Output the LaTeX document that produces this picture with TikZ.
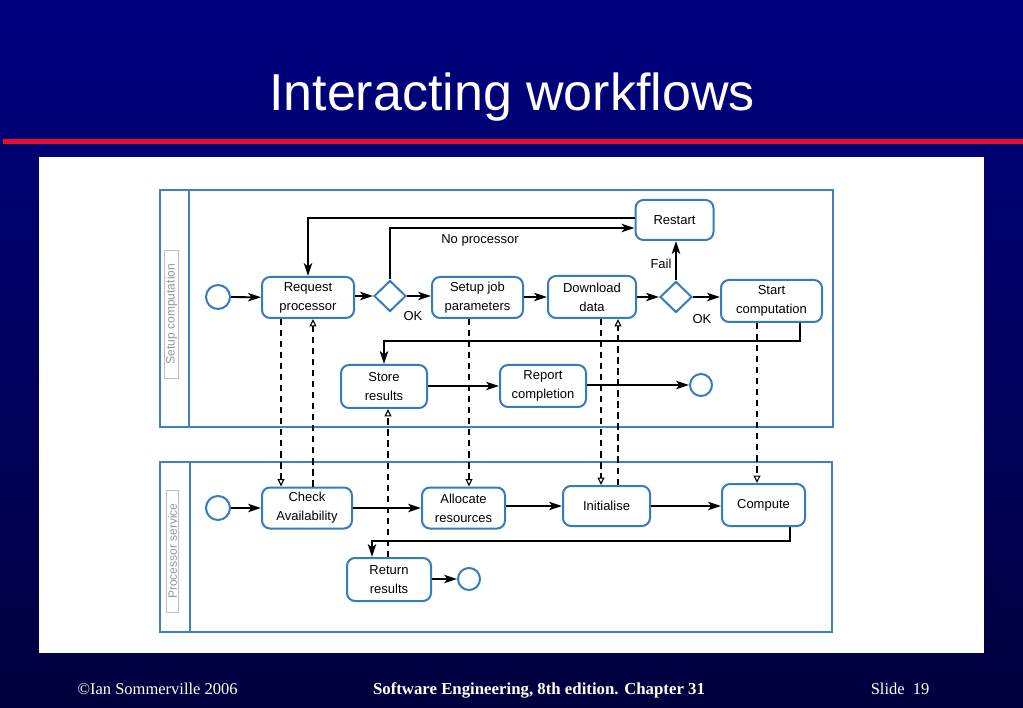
\documentclass[tikz,border=0pt]{standalone}
\usepackage{fontspec}
\setmainfont{Liberation Serif}
\newfontfamily\arialf{Liberation Sans}
\usetikzlibrary{arrows.meta,shapes.geometric}
\definecolor{navytop}{RGB}{0,0,128}
\definecolor{navybot}{RGB}{0,0,62}
\definecolor{slidered}{RGB}{232,16,48}
\definecolor{boxblue}{RGB}{52,124,190}
\definecolor{laneblue}{RGB}{62,128,192}
\definecolor{lanegray}{RGB}{150,150,150}
\tikzset{
  lbl/.style={font=\arialf\fontsize{13}{19}\selectfont},
  act/.style={draw=boxblue, line width=2pt, rounded corners=8pt, fill=white, align=center, inner sep=0pt, lbl},
  dec/.style={draw=boxblue, line width=2pt, shape=diamond, fill=white, inner sep=0pt, minimum width=32pt, minimum height=31pt},
  term/.style={draw=boxblue, line width=2pt, shape=circle, fill=white, inner sep=0pt},
  arr/.style={-{Stealth[length=13pt,width=8.5pt,inset=3.5pt]}, line width=1.8pt},
  dsh/.style={dash pattern=on 6.5pt off 4.5pt, line width=1.8pt, -{Triangle[open,length=7.5pt,width=7pt,line width=1.1pt]}},
  lane/.style={draw=laneblue, line width=2pt},
  lanelbl/.style={rotate=90, draw=lanegray!60, text=lanegray, font=\arialf\fontsize{12}{13}\selectfont, inner sep=1.5pt}
}
\begin{document}
\begin{tikzpicture}[x=1pt,y=-1pt]
\useasboundingbox (0,0) rectangle (1023,708);
\shade[top color=navytop,bottom color=navybot] (0,0) rectangle (1023,708);
\fill[slidered] (3,139) rectangle (1023,144.5);
\fill[white] (38.5,157) rectangle (984,653);
\node[text=white, font=\arialf\fontsize{52}{60}\selectfont, anchor=base] (title) at (512,111) {Interacting workflows};
\node[text=white, font=\fontsize{16.5}{18}\selectfont, anchor=base west] (fl) at (74,694) {©Ian Sommerville 2006};
\node[text=white, font=\bfseries\fontsize{16.8}{18}\selectfont, anchor=base] (fc) at (539,694) {Software Engineering, 8th edition. Chapter 31};
\node[text=white, font=\fontsize{16.5}{18}\selectfont, anchor=base east] (fr) at (933,694) {Slide\ \ 19};

% lanes
\draw[lane] (160,190) rectangle (833,427);
\draw[lane] (189,190) -- (189,427);
\draw[lane] (160,462) rectangle (832,632);
\draw[lane] (190,462) -- (190,632);
\node[lanelbl, minimum width=128pt] (l1) at (171.5,314) {Setup computation};
\node[lanelbl, minimum width=122pt] (l2) at (172.5,551) {Processor service};

% top lane nodes
\node[term, minimum size=24pt] (s1) at (218,297) {};
\node[act, minimum width=92pt, minimum height=41pt] (req) at (308,297.5) {Request\\processor};
\node[dec] (d1) at (390,296) {};
\node[act, minimum width=91pt, minimum height=41pt] (setup) at (477.5,297.5) {Setup job\\parameters};
\node[act, minimum width=88pt, minimum height=42pt] (down) at (592,297) {Download\\data};
\node[dec] (d2) at (676,297) {};
\node[act, minimum width=101pt, minimum height=42pt] (start) at (771.5,301) {Start\\computation};
\node[act, minimum width=78pt, minimum height=40pt] (restart) at (674.5,220) {Restart};
\node[act, minimum width=86pt, minimum height=43pt] (store) at (384,386.5) {Store\\results};
\node[act, minimum width=86pt, minimum height=42pt] (report) at (543,386) {Report\\completion};
\node[term, minimum size=22pt] (e1) at (701,385) {};

\node[lbl] (np) at (480,240) {No processor};
\node[lbl] (ok1) at (413,316) {OK};
\node[lbl] (fail) at (661,264) {Fail};
\node[lbl] (ok2) at (702,319) {OK};

% bottom lane nodes
\node[term, minimum size=24pt] (s2) at (218,508) {};
\node[act, minimum width=90pt, minimum height=41pt] (check) at (307,508) {Check\\Availability};
\node[act, minimum width=83pt, minimum height=41pt] (alloc) at (463.5,508) {Allocate\\resources};
\node[act, minimum width=87pt, minimum height=40pt] (init) at (606.5,506) {Initialise};
\node[act, minimum width=83pt, minimum height=42pt] (comp) at (763.5,505) {Compute};
\node[act, minimum width=84pt, minimum height=43pt] (ret) at (389,579.5) {Return\\results};
\node[term, minimum size=22pt] (e2) at (469,579) {};

\coordinate (c1) at (800,341);
\coordinate (c2) at (790,541);

% top lane flows
\draw[arr] (s1) -- (req);
\draw[arr] (req.east |- d1.west) -- (d1.west);
\draw[arr] (d1.east) -- (d1.east -| setup.west);
\draw[arr] (setup.east |- down.west) -- (down.west);
\draw[arr] (down.east |- d2.west) -- (d2.west);
\draw[arr] (d2.east) -- (d2.east -| start.west);
\draw[arr] (d2.north) -- (d2.north |- restart.south);
\draw[arr] (d1.north) |- ([yshift=-8pt]restart.west);
\draw[arr] ([yshift=2pt]restart.west) -| (req.north);
\draw[arr] (c1 |- start.south) -- (c1) -- (c1 -| store.north) -- (store.north);
\draw[arr] (store.east |- report.west) -- (report.west);
\draw[arr] (report.east |- e1.west) -- (e1.west);

% bottom lane flows
\draw[arr] (s2) -- (check);
\draw[arr] (check.east) -- (check.east -| alloc.west);
\draw[arr] (alloc.east |- init.west) -- (init.west);
\draw[arr] (init.east) -- (init.east -| comp.west);
\draw[arr] (c2 |- comp.south) -- (c2) -- ([xshift=-17pt]c2 -| ret.north) -- ([xshift=-17pt]ret.north);
\draw[arr] (ret.east |- e2.west) -- (e2.west);

% message flows
\draw[dsh] ([xshift=-27pt]req.south) -- ([xshift=-26pt]check.north);
\draw[dsh] ([xshift=6pt]check.north) -- ([xshift=5pt]req.south);
\draw[dsh] ([xshift=-8.5pt]setup.south) -- ([xshift=5.5pt]alloc.north);
\draw[dsh] ([xshift=9pt]down.south) -- ([xshift=-5.5pt]init.north);
\draw[dsh] ([xshift=11.5pt]init.north) -- ([xshift=26pt]down.south);
\draw[dsh] ([xshift=-14.5pt]start.south) -- ([xshift=-6.5pt]comp.north);
\draw[dsh] ([xshift=-1pt]ret.north) -- ([xshift=4pt]store.south);
\end{tikzpicture}
\end{document}
